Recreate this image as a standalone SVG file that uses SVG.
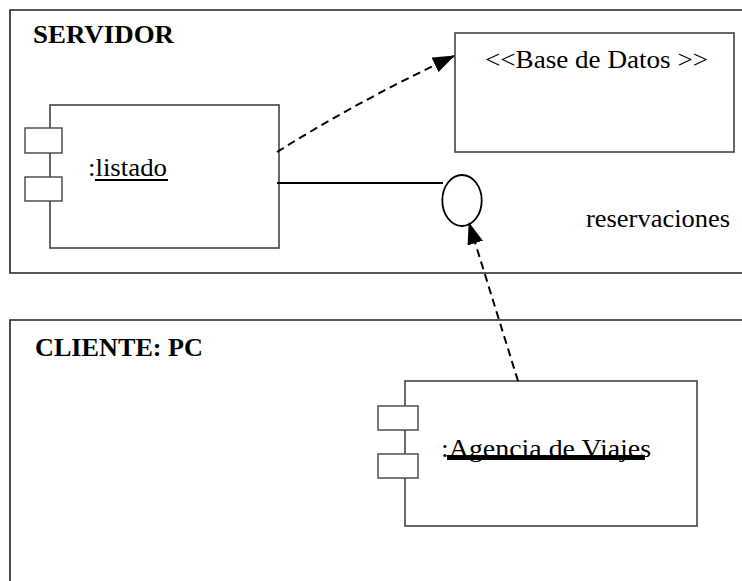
<svg xmlns="http://www.w3.org/2000/svg" width="742" height="581" viewBox="0 0 742 581">
<style>
.frame{fill:none;stroke:#222;stroke-width:1.6}
.box{fill:#fff;stroke:#444;stroke-width:1.6}
.port{fill:#fff;stroke:#444;stroke-width:1.4}
.t{font-family:"Liberation Serif","Times New Roman",serif;font-size:26px;fill:#000}
.b{font-weight:bold}
.dash{fill:none;stroke:#000;stroke-width:2;stroke-dasharray:8 5}
.solid{fill:none;stroke:#000;stroke-width:2}
</style>
<defs>
<marker id="ah" markerUnits="userSpaceOnUse" markerWidth="22" markerHeight="16" refX="21" refY="8" orient="auto">
<path d="M0,0 L22,8 L0,16 z" fill="#000"/>
</marker>
</defs>
<rect width="742" height="581" fill="#fff"/>
<g id="servidor">
<path class="frame" d="M743,10 L10,10 L10,273 L743,273"/>
<text class="t b" x="33" y="43" textLength="141" lengthAdjust="spacingAndGlyphs">SERVIDOR</text>
</g>
<g id="cliente">
<path class="frame" d="M743,320 L10,320 L10,582"/>
<text class="t b" x="35" y="356" textLength="168" lengthAdjust="spacingAndGlyphs">CLIENTE: PC</text>
</g>
<g id="basedatos">
<rect class="box" x="455" y="33" width="279" height="119"/>
<text class="t" x="485" y="68" textLength="223" lengthAdjust="spacingAndGlyphs">&lt;&lt;Base de Datos &gt;&gt;</text>
</g>
<g id="listado">
<rect class="box" x="50" y="105" width="229" height="143"/>
<rect class="port" x="25" y="128" width="37" height="25"/>
<rect class="port" x="25" y="177" width="37" height="24"/>
<text class="t" x="88" y="176" textLength="79" lengthAdjust="spacingAndGlyphs">:listado</text>
<rect x="95" y="179" width="73" height="2" fill="#000"/>
</g>
<g id="agencia">
<rect class="box" x="405" y="381" width="292" height="145"/>
<rect class="port" x="378" y="406" width="40" height="24"/>
<rect class="port" x="378" y="454" width="40" height="24"/>
<text class="t" x="441" y="457" textLength="210" lengthAdjust="spacingAndGlyphs">:Agencia de Viajes</text>
<rect x="447" y="455" width="198" height="5" fill="#000"/>
</g>
<g id="reservaciones">
<ellipse cx="462" cy="200.5" rx="19.7" ry="25.5" fill="#fff" stroke="#000" stroke-width="1.8"/>
<text class="t" x="586" y="227" textLength="144" lengthAdjust="spacingAndGlyphs">reservaciones</text>
</g>
<g id="connectors">
<path class="dash" d="M277,152 Q360,100 454,56" marker-end="url(#ah)"/>
<line class="solid" x1="277" y1="183" x2="443" y2="183"/>
<line class="dash" x1="518" y1="381" x2="469" y2="223" marker-end="url(#ah)"/>
</g>
</svg>
